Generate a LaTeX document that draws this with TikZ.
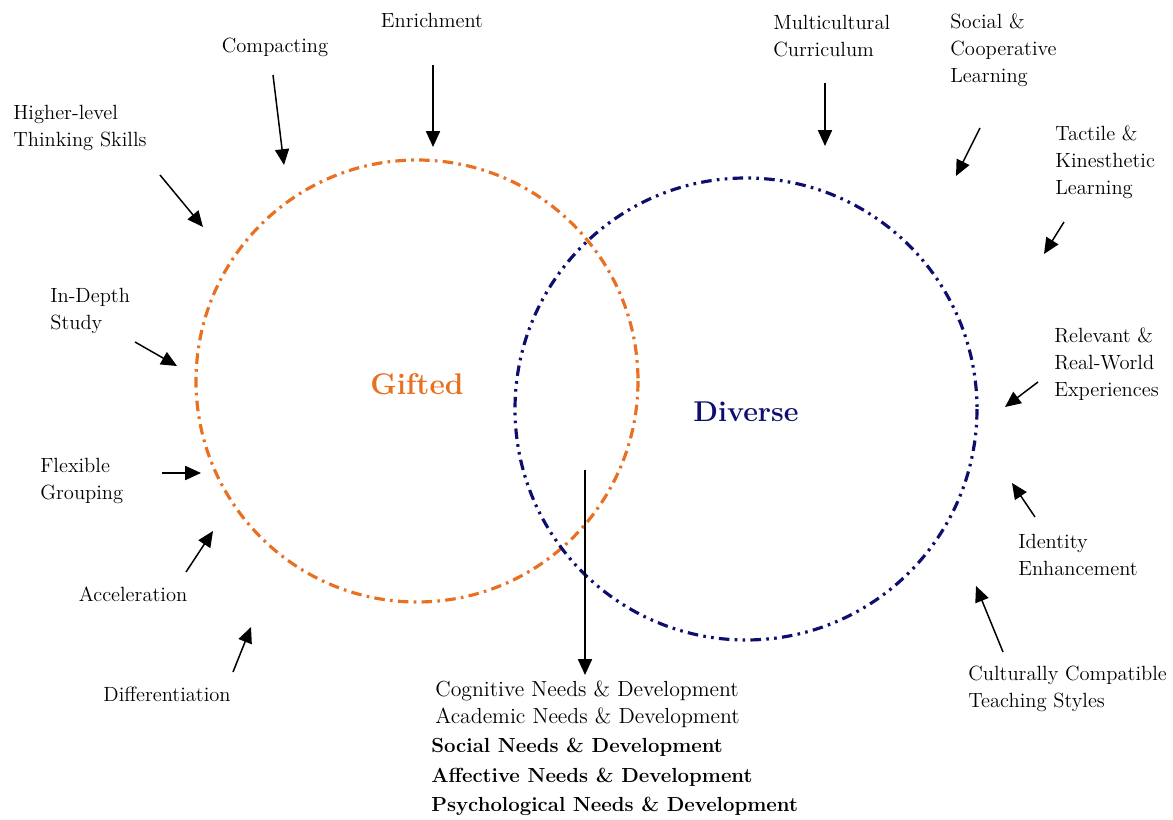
\documentclass[tikz,border=0pt]{standalone}
\usetikzlibrary{arrows.meta}
\definecolor{giftedorange}{RGB}{232,112,32}
\definecolor{diversenavy}{RGB}{14,14,110}
\tikzset{
  lbl/.style={inner sep=0pt, align=left, font=\fontsize{11.7}{15.3}\selectfont},
  needslight/.style={inner sep=0pt, anchor=west, font=\fontsize{12.4}{15}\selectfont},
  needsbold/.style={inner sep=0pt, anchor=west, font=\fontsize{11.6}{15}\selectfont\bfseries},
  pointer/.style={-{Triangle[length=9pt,width=8pt]}, line width=0.85pt},
  giftedring/.style={giftedorange, line width=1.8pt, dash pattern=on 6pt off 3pt on 1.5pt off 3pt},
  diversering/.style={diversenavy, line width=1.8pt, dash pattern=on 6pt off 3pt on 1.5pt off 3pt on 1.5pt off 3pt},
}
\begin{document}
\begin{tikzpicture}[x=0.02cm,y=-0.02cm]
  \useasboundingbox (0,0) rectangle (1173,820);
  % the two rings
  \draw[giftedring] (417,381) circle (221);
  \draw[diversering] (746,409) circle (231);
  \node[font=\fontsize{17}{20}\selectfont\bfseries, text=giftedorange] (gifted) at (417,384) {Gifted};
  \node[font=\fontsize{16.3}{20}\selectfont\bfseries, text=diversenavy] (diverse) at (746,412) {Diverse};
  % labels round the gifted ring
  \node[lbl] (compacting) at (275,47) {Compacting};
  \node[lbl] (enrichment) at (432,20) {Enrichment};
  \node[lbl, anchor=west] (higher) at (13,128) {Higher-level\\Thinking Skills};
  \node[lbl, anchor=west] (indepth) at (50,311) {In-Depth\\Study};
  \node[lbl, anchor=west] (flexible) at (40,481) {Flexible\\Grouping};
  \node[lbl] (acceleration) at (133,594) {Acceleration};
  \node[lbl] (differentiation) at (167,694) {Differentiation};
  % labels round the diverse ring
  \node[lbl, anchor=west] (multicultural) at (773,36) {Multicultural\\Curriculum};
  \node[lbl, anchor=west] (social) at (950,50) {Social \&\\Cooperative\\Learning};
  \node[lbl, anchor=west] (tactile) at (1055,162) {Tactile \&\\Kinesthetic\\Learning};
  \node[lbl, anchor=west] (relevant) at (1054,364) {Relevant \&\\Real-World\\Experiences};
  \node[lbl, anchor=west] (identity) at (1018,555) {Identity\\Enhancement};
  \node[lbl, anchor=west] (cultural) at (968,689) {Culturally Compatible\\Teaching Styles};
  % needs
  \node[needslight] (cognitive) at (435,691) {Cognitive Needs \& Development};
  \node[needslight] (academic) at (435,718) {Academic Needs \& Development};
  \node[needsbold] (socialneeds) at (431,747) {Social Needs \& Development};
  \node[needsbold] (affective) at (431,777) {Affective Needs \& Development};
  \node[needsbold] (psych) at (431,806) {Psychological Needs \& Development};
  % arrow ends
  \coordinate (cmp1) at (273,75);   \coordinate (cmp2) at (284,165);
  \coordinate (enr1) at (433,65);   \coordinate (enr2) at (433,147);
  \coordinate (hig1) at (160,175);  \coordinate (hig2) at (203,227);
  \coordinate (ind1) at (135,342);  \coordinate (ind2) at (177,366);
  \coordinate (flx1) at (162,473);  \coordinate (flx2) at (201,473);
  \coordinate (acc1) at (186,572);  \coordinate (acc2) at (213,531);
  \coordinate (dif1) at (233,672);  \coordinate (dif2) at (251,627);
  \coordinate (mul1) at (825,83);   \coordinate (mul2) at (825,146);
  \coordinate (soc1) at (980,128);  \coordinate (soc2) at (956,176);
  \coordinate (tac1) at (1064,222); \coordinate (tac2) at (1044,254);
  \coordinate (rel1) at (1038,382); \coordinate (rel2) at (1005,407);
  \coordinate (ide1) at (1035,517); \coordinate (ide2) at (1012,483);
  \coordinate (cul1) at (1003,652); \coordinate (cul2) at (976,586);
  \coordinate (mid1) at (585,470);  \coordinate (mid2) at (585,675);
  \foreach \a in {cmp,enr,hig,ind,flx,acc,dif,mul,soc,tac,rel,ide,cul,mid}
    \draw[pointer] (\a1) -- (\a2);
\end{tikzpicture}
\end{document}
